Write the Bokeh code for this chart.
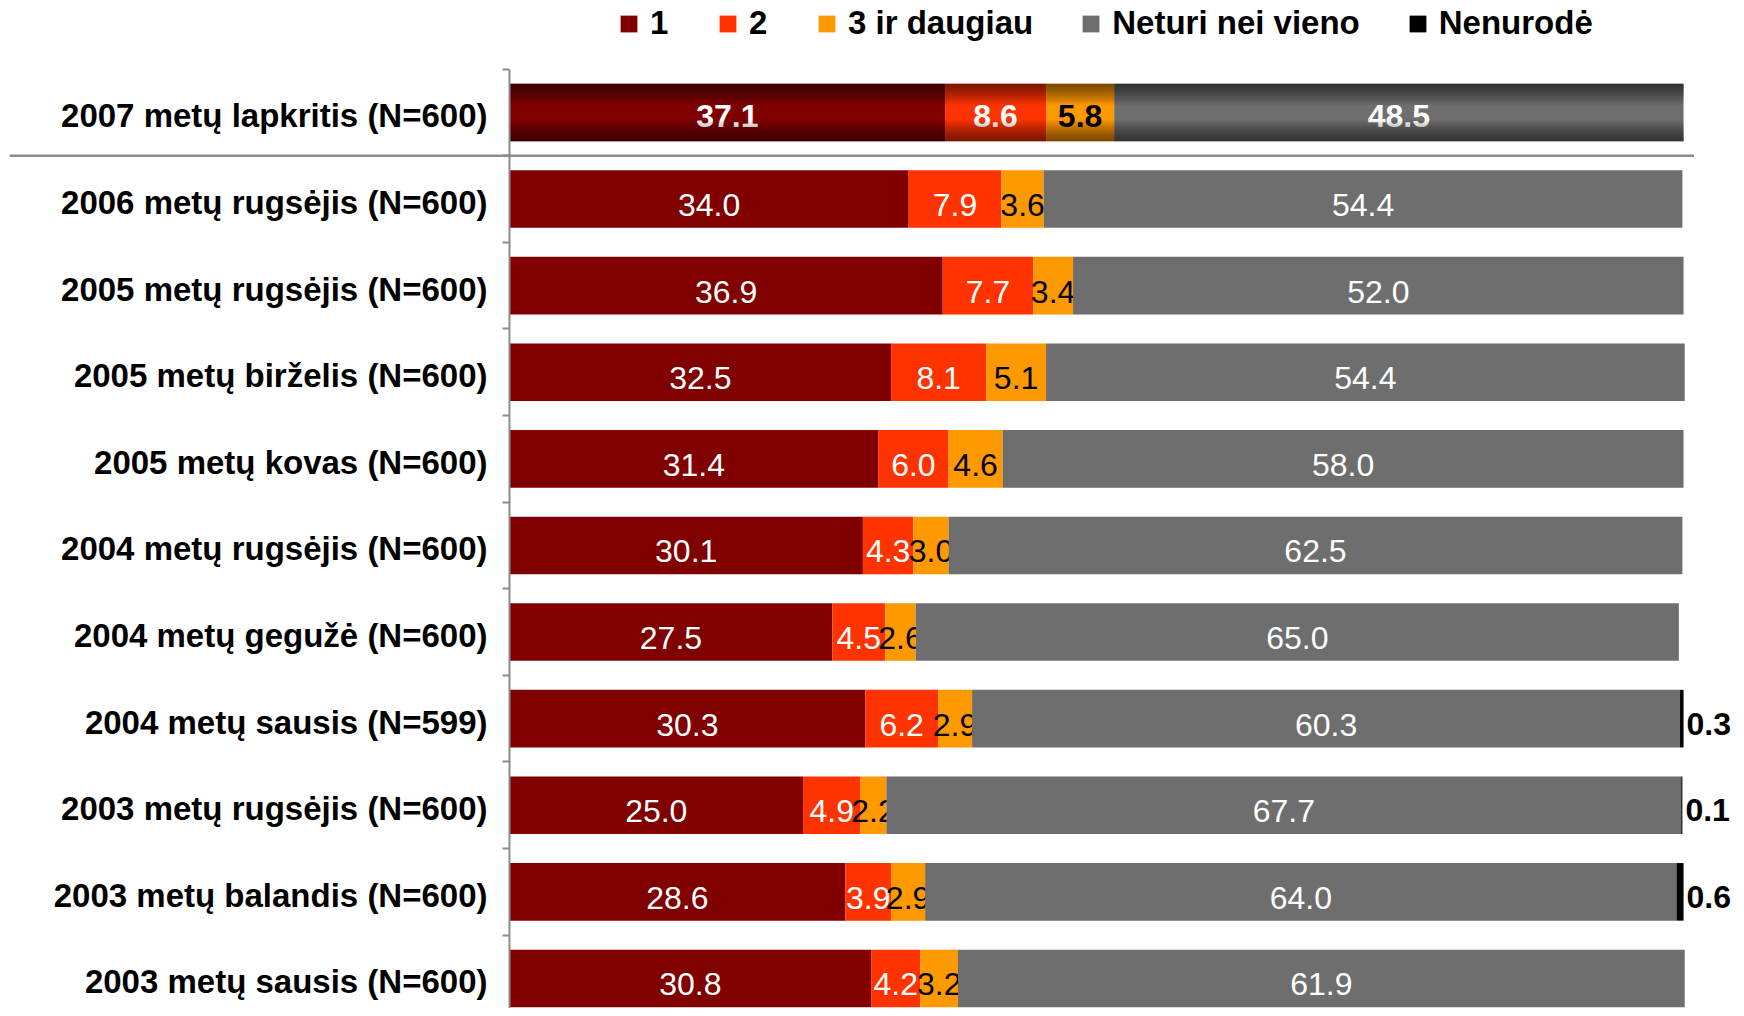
import numpy as np
from bokeh.plotting import figure
from bokeh.models import (ColumnDataSource, Range1d, LinearAxis, FixedTicker,
                          Legend, LegendItem)
from bokeh.core.properties import value
from bokeh.embed import file_html
from bokeh.resources import INLINE

# ---------------- data ----------------
categories = [
    "2007 metų lapkritis (N=600)",
    "2006 metų rugsėjis (N=600)",
    "2005 metų rugsėjis (N=600)",
    "2005 metų birželis (N=600)",
    "2005 metų kovas (N=600)",
    "2004 metų rugsėjis (N=600)",
    "2004 metų gegužė (N=600)",
    "2004 metų sausis (N=599)",
    "2003 metų rugsėjis (N=600)",
    "2003 metų balandis (N=600)",
    "2003 metų sausis (N=600)",
]
series_names = ["1", "2", "3 ir daugiau", "Neturi nei vieno", "Nenurodė"]
s_one = [37.1, 34.0, 36.9, 32.5, 31.4, 30.1, 27.5, 30.3, 25.0, 28.6, 30.8]
s_two = [8.6, 7.9, 7.7, 8.1, 6.0, 4.3, 4.5, 6.2, 4.9, 3.9, 4.2]
s_three = [5.8, 3.6, 3.4, 5.1, 4.6, 3.0, 2.6, 2.9, 2.2, 2.9, 3.2]
s_none = [48.5, 54.4, 52.0, 54.4, 58.0, 62.5, 65.0, 60.3, 67.7, 64.0, 61.9]
s_na = [0, 0, 0, 0, 0, 0, 0, 0.3, 0.1, 0.6, 0]

colors = ["#800000", "#FF3300", "#FF9900", "#6E6E6E", "#000000"]
label_colors = ["white", "white", "black", "white", "black"]

FONT = "Liberation Sans"
n = len(categories)
rows = list(range(n))
series = [s_one, s_two, s_three, s_none, s_na]

# ---------------- figure ----------------
X0, X1 = -42.59, 104.51
Y_BOTTOM, Y_TOP = 10.347, -1.293
BAR_H = 0.665

p = figure(width=1736, height=1008, output_backend="svg", toolbar_location=None,
           x_range=Range1d(X0, X1), y_range=Range1d(Y_BOTTOM, Y_TOP),
           x_axis_location=None, y_axis_location=None,
           min_border_left=9, min_border_right=0, min_border_top=0, min_border_bottom=0)
p.outline_line_color = None
p.xgrid.visible = False
p.ygrid.visible = False
p.background_fill_color = "white"
p.border_fill_color = "white"

# stacked bars
lefts = np.zeros(n)
renderers = []
for k, (name, vals) in enumerate(zip(series_names, series)):
    vals = np.array(vals, dtype=float)
    src = ColumnDataSource(dict(y=rows, left=lefts.copy(), right=lefts + vals,
                                mid=lefts + vals / 2, val=vals,
                                txt=[f"{v:.1f}" for v in vals]))
    r = p.hbar(y="y", left="left", right="right", height=BAR_H, source=src,
               fill_color=colors[k], line_color=None)
    renderers.append(r)
    if k < 4:
        top_src = ColumnDataSource(dict(x=[src.data["mid"][0]], y=[0], t=[src.data["txt"][0]]))
        p.text(x="x", y="y", text="t", source=top_src, text_align="center",
               text_baseline="middle", y_offset=4, text_color=label_colors[k],
               text_font=value(FONT), text_font_style="bold", text_font_size="32px")
        idx = [i for i in rows[1:] if vals[i] > 0]
        rest_src = ColumnDataSource(dict(x=[src.data["mid"][i] for i in idx], y=idx,
                                         t=[src.data["txt"][i] for i in idx]))
        p.text(x="x", y="y", text="t", source=rest_src, text_align="center",
               text_baseline="middle", y_offset=6, text_color=label_colors[k],
               text_font=value(FONT), text_font_style="normal", text_font_size="32px")
    else:
        idx = [i for i in rows if vals[i] > 0]
        na_src = ColumnDataSource(dict(x=[(lefts + vals)[i] for i in idx], y=idx,
                                       t=[f"{vals[i]:.1f}" for i in idx]))
        p.text(x="x", y="y", text="t", source=na_src, text_align="left",
               text_baseline="middle", x_offset=3, y_offset=5, text_color="black",
               text_font=value(FONT), text_font_style="bold", text_font_size="32px")
    lefts = lefts + vals

# gradient shading on the top (latest) bar
total0 = sum(s[0] for s in series)
N = 10
strip_y, strip_h = [], []
for k in range(1, N + 1):
    t = k / N * 0.36 * BAR_H
    strip_y += [0 - BAR_H / 2 + t / 2, 0 + BAR_H / 2 - t / 2]
    strip_h += [t, t]
shade = ColumnDataSource(dict(y=strip_y, h=strip_h, left=[0] * len(strip_y),
                              right=[total0] * len(strip_y)))
p.hbar(y="y", height="h", left="left", right="right", source=shade,
       fill_color="black", fill_alpha=0.065, line_color=None)

# separator between latest wave and earlier waves
sep = ColumnDataSource(dict(x0=[X0], x1=[100.9], y0=[0.5], y1=[0.5]))
p.segment(x0="x0", y0="y0", x1="x1", y1="y1", source=sep,
          line_color="#8C8C8C", line_width=2.5)

# category axis
label_pos = [round(i + 0.04, 2) for i in rows]
yaxis = LinearAxis(fixed_location=0, bounds=(-0.5, n - 0.5),
                   ticker=FixedTicker(ticks=label_pos,
                                      minor_ticks=[i - 0.5 for i in range(n + 1)]))
yaxis.major_label_overrides = {pos: c for pos, c in zip(label_pos, categories)}
yaxis.axis_line_color = "#8C8C8C"
yaxis.axis_line_width = 2
yaxis.major_tick_line_color = None
yaxis.major_tick_out = 0
yaxis.major_tick_in = 0
yaxis.minor_tick_line_color = "#8C8C8C"
yaxis.minor_tick_line_width = 2
yaxis.minor_tick_out = 7
yaxis.minor_tick_in = 0
yaxis.major_label_standoff = 15
yaxis.major_label_text_font = FONT
yaxis.major_label_text_font_style = "bold"
yaxis.major_label_text_font_size = "33px"
yaxis.major_label_text_color = "black"
p.add_layout(yaxis, "left")

# legend
legend = Legend(items=[LegendItem(label=nm, renderers=[r]) for nm, r in zip(series_names, renderers)],
                location=(609, 966), orientation="horizontal",
                glyph_width=21, glyph_height=21, label_standoff=11, spacing=47,
                padding=0, margin=0, border_line_color=None, background_fill_alpha=0,
                label_text_font=FONT, label_text_font_style="bold",
                label_text_font_size="33px", label_text_color="black")
p.add_layout(legend, "center")

open("out.html", "w").write(file_html(p, INLINE))
